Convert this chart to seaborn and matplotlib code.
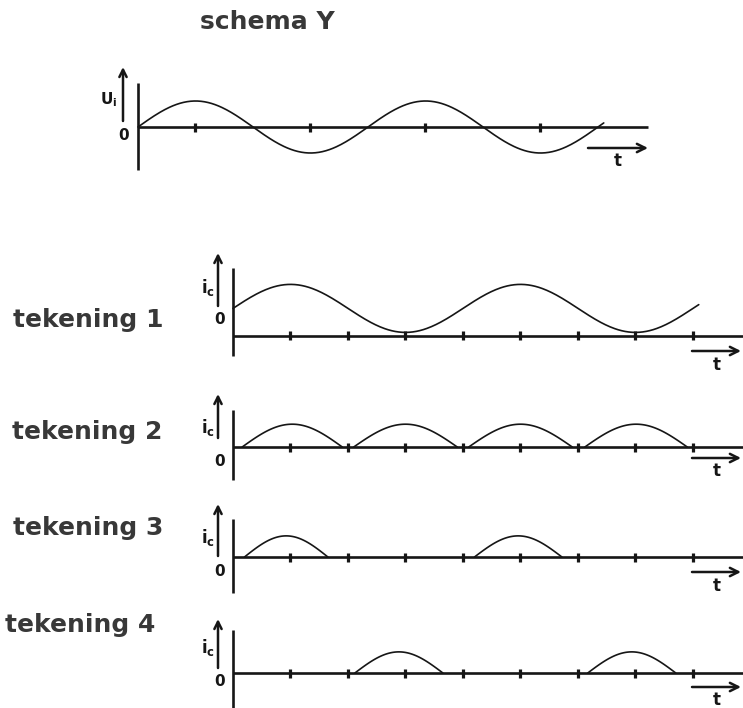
import numpy as np
import pandas as pd
import matplotlib
matplotlib.use('Agg')
import matplotlib.pyplot as plt
import seaborn as sns

sns.set_theme(style='white')
plt.rcParams['font.family'] = ['DejaVu Sans']
plt.rcParams['mathtext.fontset'] = 'dejavusans'

# --- data (time in quarter periods, amplitude in relative units) ---
TICKS_UI = [1, 3, 5, 7]
TICKS_IC = [1, 2, 3, 4, 5, 6, 7, 8]
UI_AMPL = 1.0
UI_END = 8.1
IC1_OFFSET = 1.15
IC1_AMPL = 1.0
IC1_END = 8.1
ARCH2_START = [0.16, 2.1, 4.1, 6.12]
ARCH2_END = [1.9, 3.9, 5.9, 7.9]
ARCH2_PEAK = 0.95
ARCH3_START = [0.2, 4.2]
ARCH3_END = [1.65, 5.72]
ARCH3_PEAK = 0.88
ARCH4_START = [2.12, 6.17]
ARCH4_END = [3.65, 7.7]
ARCH4_PEAK = 0.88
LABELS = ['tekening 1', 'tekening 2', 'tekening 3', 'tekening 4']
TITLE = 'schema Y'

# --- layout in pixels ---
W, H = 743, 708
DX = 57.5
LINE = '#161616'
TEXT = '#383838'


def sine_frame(offset, ampl, t_end):
    t = np.linspace(0, t_end, 400)
    return pd.DataFrame({'t': t, 'y': offset + ampl * np.sin(np.pi / 2 * t), 'seg': 0})


def arch_frame(starts, ends, peak):
    parts = []
    for i, (s, e) in enumerate(zip(starts, ends)):
        t = np.linspace(s, e, 120)
        parts.append(pd.DataFrame({'t': t, 'y': peak * np.sin(np.pi * (t - s) / (e - s)), 'seg': i}))
    return pd.concat(parts, ignore_index=True)


fig = plt.figure(figsize=(W / 100, H / 100), dpi=100)

panels = [
    dict(df=sine_frame(0, UI_AMPL, UI_END), ticks=TICKS_UI, x0=138, axis_y=127, unit=26, xend=648),
    dict(df=sine_frame(IC1_OFFSET, IC1_AMPL, IC1_END), ticks=TICKS_IC, x0=233, axis_y=336, unit=24, xend=743),
    dict(df=arch_frame(ARCH2_START, ARCH2_END, ARCH2_PEAK), ticks=TICKS_IC, x0=233, axis_y=447, unit=24, xend=743),
    dict(df=arch_frame(ARCH3_START, ARCH3_END, ARCH3_PEAK), ticks=TICKS_IC, x0=233, axis_y=557, unit=24, xend=743),
    dict(df=arch_frame(ARCH4_START, ARCH4_END, ARCH4_PEAK), ticks=TICKS_IC, x0=233, axis_y=673, unit=24, xend=743),
]

for p in panels:
    ax = fig.add_axes([0, 0, 1, 1])
    ax.patch.set_alpha(0)
    ax.set_xlim(-p['x0'] / DX, (W - p['x0']) / DX)
    ax.set_ylim((p['axis_y'] - H) / p['unit'], p['axis_y'] / p['unit'])
    ax.axis('off')
    sns.lineplot(data=p['df'], x='t', y='y', units='seg', estimator=None, sort=False,
                 ax=ax, color=LINE, lw=1.2)
    ax.plot([0, (p['xend'] - p['x0']) / DX], [0, 0], color=LINE, lw=1.9, solid_capstyle='butt')
    ax.vlines(p['ticks'], -4.5 / p['unit'], 4.5 / p['unit'], color=LINE, lw=2.3)

# decorations in pixel coordinates
deco = fig.add_axes([0, 0, 1, 1])
deco.patch.set_alpha(0)
deco.set_xlim(0, W)
deco.set_ylim(H, 0)
deco.axis('off')

vaxes = [(138, 83, 170), (233, 268, 356), (233, 410, 480), (233, 519, 593), (233, 630, 708)]
for x, y0, y1 in vaxes:
    deco.plot([x, x], [y0, y1], color=LINE, lw=1.9, solid_capstyle='butt')

up_arrows = [(123, 121, 67), (218, 306, 253), (218, 438, 394), (218, 556, 504), (218, 668, 619)]
for x, y0, y1 in up_arrows:
    deco.annotate('', xy=(x, y1), xytext=(x, y0),
                  arrowprops=dict(arrowstyle='->', lw=1.8, color=LINE, mutation_scale=13,
                                  shrinkA=0, shrinkB=0))

t_arrows = [(588, 648, 148), (692, 741, 351), (692, 741, 458), (692, 741, 572), (692, 741, 687)]
for x0, x1, y in t_arrows:
    deco.annotate('', xy=(x1, y), xytext=(x0, y),
                  arrowprops=dict(arrowstyle='->', lw=1.8, color=LINE, mutation_scale=15,
                                  shrinkA=0, shrinkB=0))

t_labels = [(618, 161), (717, 365), (717, 471), (717, 586), (717, 700)]
for x, y in t_labels:
    deco.text(x, y, 't', ha='center', va='center', fontsize=12, fontweight='bold', color=LINE)

zero_labels = [(124, 135), (220, 320), (220, 462), (220, 572), (220, 682)]
for x, y in zero_labels:
    deco.text(x, y, '0', ha='center', va='center', fontsize=11, fontweight='bold', color=LINE)

deco.text(117, 100, r'$\mathbf{U}_{\mathbf{i}}$', ha='right', va='center', fontsize=11, color=LINE)
for y in [287, 428, 538, 648]:
    deco.text(215, y, r'$\mathbf{i}_{\mathbf{c}}$', ha='right', va='center', fontsize=12, color=LINE)

deco.text(267, 22, TITLE, ha='center', va='center', fontsize=18, fontweight='bold', color=TEXT)
label_pos = [(13, 320), (12, 432), (13, 528), (5, 625)]
for (x, y), s in zip(label_pos, LABELS):
    deco.text(x, y, s, ha='left', va='center', fontsize=18, fontweight='bold', color=TEXT)

fig.savefig('out.png', dpi=100)
